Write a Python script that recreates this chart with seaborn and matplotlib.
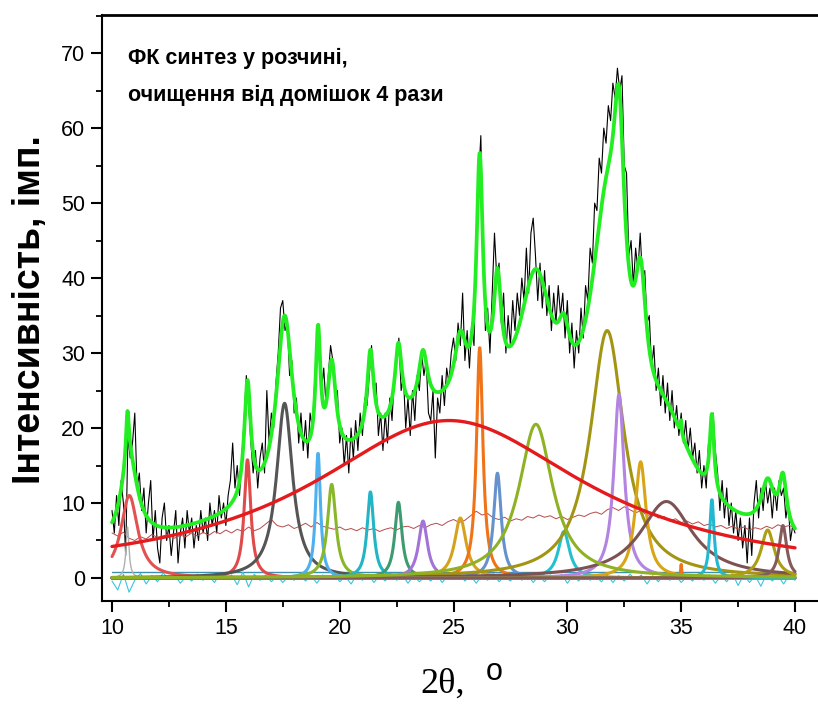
import matplotlib
matplotlib.use("Agg")
import matplotlib.pyplot as plt
from matplotlib.ticker import MultipleLocator
import numpy as np
import pandas as pd
import seaborn as sns

# ---- values ----
# raw diffractogram, 2theta from 10 to 40 deg, 0.1 deg apart
raw_counts = [
    9, 6, 11, 7, 13, 10, 3, 19, 16, 18,
    22, 12, 14, 9, 12, 6, 10, 13, 5, 9,
    4, 2, 8, 10, 5, 7, 3, 6, 9, 2,
    6, 8, 4, 9, 6, 8, 4, 7, 5, 9,
    6, 8, 5, 10, 7, 9, 6, 11, 8, 10,
    7, 11, 13, 18, 12, 15, 11, 16, 21, 27,
    23, 18, 14, 17, 12, 16, 18, 14, 25, 18,
    22, 20, 26, 30, 36, 37, 33, 34, 27, 29,
    22, 24, 18, 22, 17, 21, 16, 22, 20, 26,
    29, 33, 25, 28, 23, 27, 31, 29, 24, 25,
    18, 20, 15, 19, 14, 20, 16, 21, 17, 22,
    19, 24, 23, 27, 31, 25, 26, 19, 22, 17,
    22, 18, 24, 21, 27, 29, 32, 25, 27, 20,
    24, 19, 25, 21, 27, 25, 30, 27, 29, 22,
    21, 25, 16, 24, 22, 27, 23, 28, 26, 30,
    32, 29, 34, 31, 38, 29, 33, 28, 34, 31,
    46, 53, 59, 44, 33, 36, 30, 38, 46, 40,
    42, 34, 38, 30, 35, 31, 37, 33, 38, 35,
    40, 37, 44, 38, 46, 48, 43, 37, 42, 36,
    41, 35, 39, 33, 38, 34, 39, 35, 38, 32,
    37, 30, 34, 28, 33, 30, 36, 32, 39, 37,
    44, 42, 50, 49, 56, 54, 60, 58, 63, 61,
    66, 64, 68, 65, 67, 55, 54, 43, 45, 39,
    44, 41, 46, 40, 41, 34, 35, 28, 31, 25,
    28, 23, 27, 22, 26, 21, 25, 20, 23, 19,
    22, 18, 21, 17, 20, 16, 18, 14, 17, 12,
    15, 12, 18, 19, 22, 17, 14, 9, 13, 8,
    12, 7, 10, 6, 9, 5, 8, 4, 7, 2,
    8, 3, 10, 13, 8, 12, 9, 13, 10, 12,
    8, 12, 9, 13, 11, 12, 8, 10, 5, 7,
    6,
]

# thin dark-red trace, 0.25 deg apart
amorph_counts = [
    6.0, 5.6, 6.1, 5.3, 5.0, 5.5, 5.2, 5.8, 5.4, 5.6, 5.9, 5.3, 5.7, 5.5, 6.0, 5.6,
    6.1, 5.7, 6.2, 5.9, 6.4, 6.0, 6.5, 6.2, 6.8, 6.3, 6.6, 7.2, 7.8, 7.0, 6.8, 7.1,
    6.6, 6.9, 7.3, 6.8, 7.4, 6.9, 6.7, 6.5, 6.8, 6.4, 6.6, 6.3, 6.7, 6.4, 6.6, 6.2,
    6.5, 6.7, 6.4, 6.8, 6.9, 6.6, 7.0, 6.7, 7.1, 7.3, 7.0, 7.5, 7.8, 7.4, 7.7, 8.3,
    8.9, 8.4, 8.6, 8.0, 7.8, 8.1, 7.6, 7.9, 7.7, 8.2, 8.0, 8.4, 8.1, 8.3, 7.9, 8.2,
    7.8, 8.1, 8.4, 8.2, 8.6, 8.8, 8.5, 9.1, 9.4, 9.0, 9.5, 9.1, 8.7, 9.0, 8.3, 8.6,
    8.0, 8.2, 7.6, 7.9, 7.4, 7.6, 7.2, 7.5, 7.0, 7.2, 6.8, 7.0, 6.6, 6.9, 6.5, 6.8,
    6.4, 6.7, 6.5, 6.9, 6.6, 7.1, 6.8, 7.0, 6.7,
]

# residual trace near zero, 0.25 deg apart
residual = [
    -0.4, -1.6, 0.5, -1.9, -0.3, 0.6, -0.8, 0.3, -0.5, 0.7, -0.2, 0.4, -0.7, 0.2, -0.4, 0.5,
    -0.3, 0.3, -0.6, 0.6, -0.2, 0.4, -0.9, 0.8, -1.2, 0.5, -0.3, 0.4, -0.5, 0.3, -0.6, 0.2,
    -0.3, 0.5, -0.4, 0.3, -0.7, 0.4, -0.2, 0.6, -0.5, 0.2, -0.8, 0.4, -0.3, 0.5, -0.6, 0.3,
    -0.4, 0.6, -0.3, 0.4, -0.7, 0.3, -0.5, 0.2, -0.4, 0.5, -0.6, 0.3, -0.2, 0.5, -0.4, 0.3,
    -0.7, 0.4, -0.3, 0.6, -0.5, 0.2, -0.4, 0.5, -0.3, 0.4, -0.6, 0.3, -0.5, 0.4, -0.2, 0.5,
    -0.7, 0.3, -0.4, 0.6, -0.3, 0.2, -0.5, 0.4, -0.6, 0.3, -0.4, 0.5, -0.2, 0.4, -0.8, 0.3,
    -0.5, 0.6, -0.3, 0.4, -0.6, 0.2, -0.4, 0.5, -0.3, 0.4, -0.7, 0.3, -0.5, 0.6, -1.0, 0.4,
    -0.6, 0.3, -1.1, 0.5, -0.4, 0.3, -0.8, 0.4, -0.3,
]

# fitted Lorentzian components: centre (deg), height (counts), FWHM (deg)
peak_center = [10.76, 10.68, 15.95, 17.58, 19.05, 19.65, 21.35, 22.58, 23.66, 25.30, 26.15,
               26.93, 29.85, 31.75, 32.27, 33.22, 34.35, 35.00, 36.35, 38.80, 39.47, 28.62]
peak_height = [11.0, 6.8, 15.8, 23.3, 16.7, 12.5, 11.5, 10.1, 7.6, 8.0, 30.8,
               14.0, 6.2, 33.0, 24.5, 15.5, 10.2, 1.8, 10.5, 6.4, 7.0, 20.5]
peak_fwhm = [0.90, 0.16, 0.35, 0.85, 0.26, 0.45, 0.35, 0.38, 0.48, 0.62, 0.34,
             0.40, 0.60, 1.80, 0.55, 0.58, 2.80, 0.06, 0.23, 0.70, 0.40, 1.80]

# broad amorphous halo
halo_center, halo_height, halo_fwhm = 24.8, 21.0, 14.8
level_line = 0.85

# ---- styles ----
peak_colors = ["#e25252", "#b0b0b0", "#e04a4a", "#555555", "#4fb0ee", "#8ab62a", "#22b5c5",
               "#3d9b72", "#a274d8", "#d4a21c", "#f07318", "#6592cc", "#25c0d0",
               "#a39514", "#b384e0", "#d9a516", "#7d5252", "#f07318", "#22b8d2", "#ad9d12",
               "#855a5a", "#8fb224"]
peak_widths = [2.2] * len(peak_center)
peak_widths[1] = 1.0


def lorentz(x, c, h, w):
    return h / (1 + ((x - c) / (w / 2)) ** 2)


raw_x = np.linspace(10, 40, len(raw_counts))
amorph_x = np.linspace(10, 40, len(amorph_counts))
res_x = np.linspace(10, 40, len(residual))
grid = np.linspace(10, 40, 1501)

components = pd.DataFrame({"x": grid})
for i in range(len(peak_center)):
    components["p%d" % i] = lorentz(grid, peak_center[i], peak_height[i], peak_fwhm[i])
components["halo"] = lorentz(grid, halo_center, halo_height, halo_fwhm)
components["total"] = components.drop(columns="x").sum(axis=1)

sns.set_theme(style="ticks")
plt.rcParams["font.family"] = ["Liberation Sans", "DejaVu Sans"]
plt.rcParams["text.color"] = "black"
plt.rcParams["xtick.color"] = "black"
plt.rcParams["ytick.color"] = "black"

fig = plt.figure(figsize=(8.18, 7.13), dpi=100)
ax = fig.add_axes([102 / 818, 1 - 601 / 713, 1 - 102 / 818, (601 - 15.3) / 713])

kw = dict(ax=ax, estimator=None, sort=False, legend=False)
sns.lineplot(x=raw_x, y=raw_counts, color="black", linewidth=0.8, zorder=2, **kw)
sns.lineplot(x=amorph_x, y=amorph_counts, color="#b84a4a", linewidth=0.7, zorder=3, **kw)
sns.lineplot(x=[raw_x[0], raw_x[-1]], y=[level_line, level_line], color="#3a90b0",
             linewidth=1.0, zorder=3, **kw)
sns.lineplot(x=res_x, y=residual, color="#3cc4dc", linewidth=0.8, zorder=3, **kw)
for i in range(len(peak_center)):
    sns.lineplot(data=components, x="x", y="p%d" % i, color=peak_colors[i],
                 linewidth=peak_widths[i], zorder=4, **kw)
sns.lineplot(data=components, x="x", y="halo", color="#e41a1c", linewidth=2.4, zorder=5, **kw)
sns.lineplot(data=components, x="x", y="total", color="#22ee22", linewidth=2.7, zorder=6, **kw)

ax.set_xlim(9.56, 41.01)
ax.set_ylim(-3.07, 75.05)
ax.xaxis.set_major_locator(MultipleLocator(5))
ax.xaxis.set_minor_locator(MultipleLocator(2.5))
ax.yaxis.set_major_locator(MultipleLocator(10))
ax.yaxis.set_minor_locator(MultipleLocator(5))
ax.tick_params(which="major", direction="out", length=8, width=1.5, labelsize=15.5, pad=4)
ax.tick_params(which="minor", direction="out", length=4.5, width=1.3)
ax.tick_params(top=False, right=False, which="both")
ax.spines["right"].set_visible(False)
for s in ["left", "bottom"]:
    ax.spines[s].set_linewidth(1.5)
    ax.spines[s].set_color("black")
ax.spines["top"].set_linewidth(2.0)
ax.spines["top"].set_color("black")
ax.set_xlabel("")
ax.set_ylabel("")

ax.text(0.036, 0.927, "ФК синтез у розчині,", transform=ax.transAxes, fontsize=15.5,
        fontweight="bold", va="center", ha="left")
ax.text(0.036, 0.864, "очищення від домішок 4 рази", transform=ax.transAxes, fontsize=15.5,
        fontweight="bold", va="center", ha="left")

fig.text(30 / 818, 1 - 310 / 713, "Інтенсивність, імп.", rotation=90, fontsize=27,
         fontweight="bold", ha="center", va="center")
fig.text(420 / 818, 1 - 684 / 713, "2θ,", fontsize=26, family="Liberation Serif",
         ha="left", va="center")
fig.text(486 / 818, 1 - 672 / 713, "o", fontsize=22, ha="left", va="center")

fig.savefig("out.png", dpi=100)
